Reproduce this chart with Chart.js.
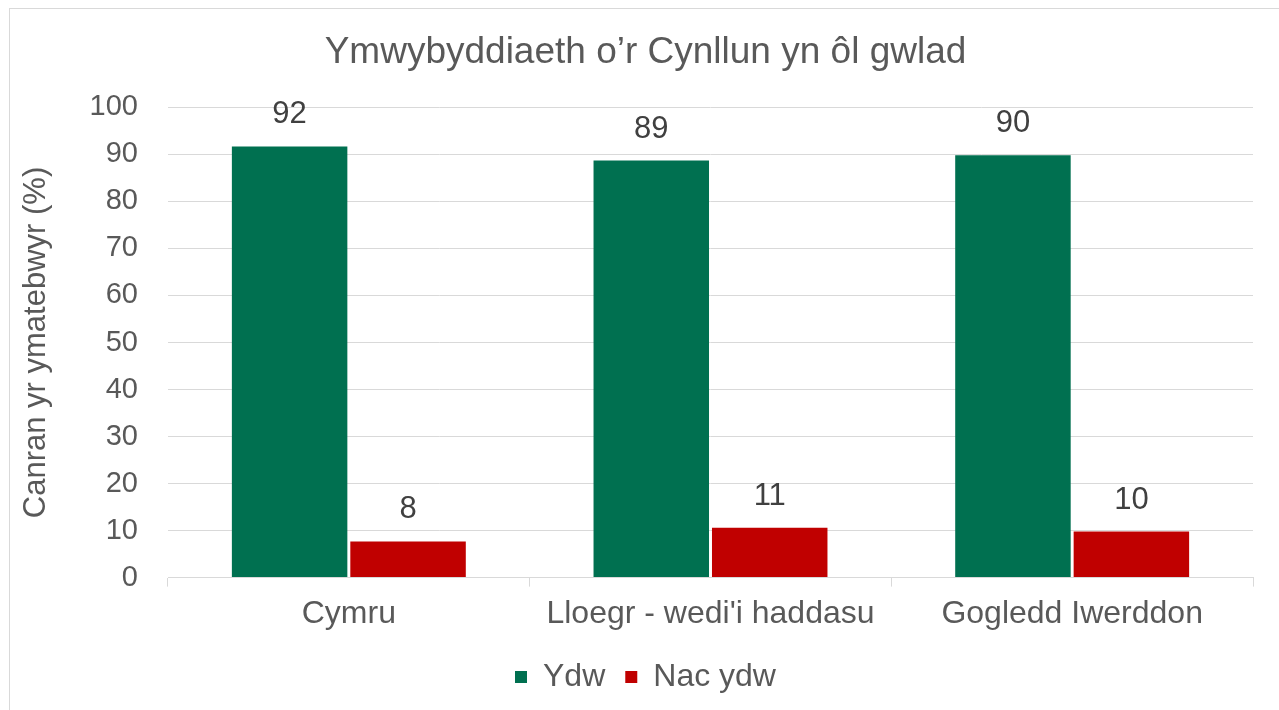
<!DOCTYPE html>
<html>
<head>
<meta charset="utf-8">
<script src="https://cdn.jsdelivr.net/npm/chart.js@4"></script>
<style>
  body { margin: 0; background: #fff; overflow: hidden; }
  #frame { position: absolute; left: 9px; top: 8px; width: 1290px; height: 720px; border: 1px solid #d9d9d9; }
  #wrap { position: absolute; left: 0; top: 0; width: 1279px; height: 710px; }
</style>
</head>
<body>
<div id="frame"></div>
<div id="wrap"><canvas id="chart"></canvas></div>
<script>
const categories = ["Cymru", "Lloegr - wedi'i haddasu", "Gogledd Iwerddon"];
const ydw = [91.7, 88.7, 89.8];
const nacYdw = [7.7, 10.6, 9.8];
const seriesNames = ["Ydw", "Nac ydw"];
const yTicks = [0, 10, 20, 30, 40, 50, 60, 70, 80, 90, 100];

const FONT = "'Liberation Sans', Arial, sans-serif";
const TEXT = "#595959";
const GRID = "#d9d9d9";

// draws the rounded value above each bar
const barLabels = {
    id: "barLabels",
    afterDatasetsDraw(chart) {
        const ctx = chart.ctx;
        ctx.save();
        ctx.font = "31px " + FONT;
        ctx.fillStyle = "#404040";
        ctx.textAlign = "center";
        ctx.textBaseline = "bottom";
        chart.data.datasets.forEach((ds, i) => {
            chart.getDatasetMeta(i).data.forEach((bar, j) => {
                ctx.fillText(Math.round(ds.data[j]), bar.x, bar.y - 16);
            });
        });
        ctx.restore();
    }
};

const ctx = document.getElementById("chart").getContext("2d");
new Chart(ctx, {
    type: "bar",
    data: {
        labels: categories,
        datasets: [
            { label: seriesNames[0], data: ydw, backgroundColor: "#007050" },
            { label: seriesNames[1], data: nacYdw, backgroundColor: "#c00000" }
        ]
    },
    options: {
        responsive: true,
        maintainAspectRatio: false,
        animation: false,
        categoryPercentage: 0.655,
        barPercentage: 0.975,
        layout: { padding: { left: 38, right: 26, top: 31, bottom: 7 } },
        plugins: {
            title: {
                display: true,
                text: "Ymwybyddiaeth o’r Cynllun yn ôl gwlad",
                color: TEXT,
                font: { family: FONT, size: 37, weight: "normal" },
                padding: { top: 0, bottom: 32 }
            },
            legend: {
                position: "bottom",
                labels: {
                    color: TEXT,
                    font: { family: FONT, size: 32 },
                    boxWidth: 12,
                    boxHeight: 12,
                    padding: 20
                }
            },
            tooltip: { enabled: false }
        },
        scales: {
            x: {
                grid: { drawOnChartArea: false, drawTicks: true, tickLength: 9, color: GRID },
                border: { display: true, color: GRID },
                ticks: { color: TEXT, font: { family: FONT, size: 32 }, padding: 8 }
            },
            y: {
                min: 0,
                max: 100,
                afterBuildTicks: axis => { axis.ticks = yTicks.map(v => ({ value: v })); },
                afterFit: axis => { axis.width = 130; },
                grid: { color: GRID, drawTicks: false },
                border: { display: false },
                ticks: { color: TEXT, font: { family: FONT, size: 29 }, padding: 30 },
                title: {
                    display: true,
                    text: "Canran yr ymatebwyr (%)",
                    color: TEXT,
                    font: { family: FONT, size: 31 },
                    padding: { top: -20, bottom: 0 }
                }
            }
        }
    },
    plugins: [barLabels]
});
</script>
</body>
</html>
